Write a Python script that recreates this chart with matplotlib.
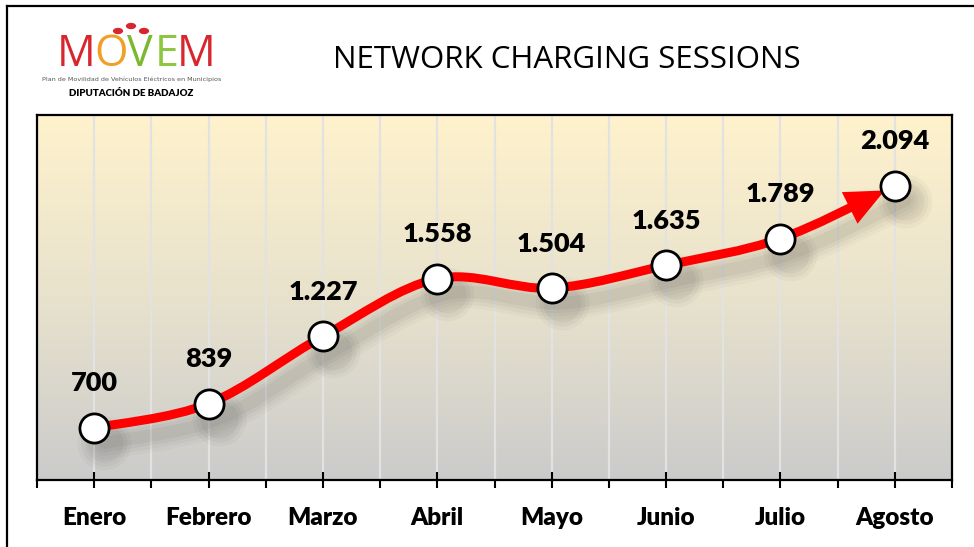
import numpy as np
import matplotlib
matplotlib.use("Agg")
import matplotlib.pyplot as plt
from matplotlib.path import Path
from matplotlib.patches import FancyArrowPatch, PathPatch, ArrowStyle, Circle
from matplotlib.lines import Line2D
from matplotlib import transforms
from matplotlib.colors import LinearSegmentedColormap

# chart data
months = ["Enero", "Febrero", "Marzo", "Abril", "Mayo", "Junio", "Julio", "Agosto"]
sessions = [700, 839, 1227, 1558, 1504, 1635, 1789, 2094]
title = "NETWORK CHARGING SESSIONS"

W, H = 974, 547
fig = plt.figure(figsize=(W / 100, H / 100), dpi=100)
fig.patch.set_facecolor("white")


def fx(px):
    return px / W


def fy(py):
    return 1 - py / H


def smooth_segments(xs, ys):
    # Excel-like smoothed line: Catmull-Rom turned into cubic Bezier pieces
    pts = np.column_stack([xs, ys]).astype(float)
    n = len(pts)
    segs = []
    for i in range(n - 1):
        p0 = pts[max(i - 1, 0)]
        p1, p2 = pts[i], pts[i + 1]
        p3 = pts[min(i + 2, n - 1)]
        segs.append([p1, p1 + (p2 - p0) / 6, p2 - (p3 - p1) / 6, p2])
    return segs


def split_bezier(b, t):
    p0, p1, p2, p3 = [np.asarray(p) for p in b]
    a = p0 + (p1 - p0) * t
    m = p1 + (p2 - p1) * t
    c = p2 + (p3 - p2) * t
    d = a + (m - a) * t
    e = m + (c - m) * t
    f = d + (e - d) * t
    return [p0, a, d, f]


def segs_to_path(segs):
    verts = [segs[0][0]]
    codes = [Path.MOVETO]
    for s in segs:
        verts += [s[1], s[2], s[3]]
        codes += [Path.CURVE4] * 3
    return Path(np.array(verts), codes)


ax = fig.add_axes([fx(37), fy(480), fx(952) - fx(37), fy(115) - fy(480)])
x = np.arange(len(months))
ax.set_xlim(-0.5, len(months) - 0.5)
ax.set_ylim(400, 2500)

# gradient background (light yellow -> gray)
cmap = LinearSegmentedColormap.from_list("bg", ["#cbcbcb", "#e8e2cd", "#fff2cc"])
grad = np.linspace(0, 1, 256).reshape(-1, 1)
ax.imshow(grad, extent=[-0.5, len(months) - 0.5, 400, 2500], origin="lower",
          aspect="auto", cmap=cmap, zorder=0)

# vertical grid at centres and boundaries
for gx in np.arange(-0.5, len(months), 0.5):
    ax.axvline(gx, color="#e2e2e2", lw=1.6, zorder=1)

segs = smooth_segments(x, sessions)
full_path = segs_to_path(segs)

# soft shadow under line and markers
shadow_tr = transforms.offset_copy(ax.transData, fig=fig, x=10, y=-15, units="dots")
for lw, a in [(24, 0.03), (19, 0.04), (14, 0.05), (9, 0.06)]:
    ax.add_patch(PathPatch(full_path, fill=False, lw=lw, ec="#404040", alpha=a,
                           transform=shadow_tr, zorder=2, capstyle="round"))
for s, a in [(1500, 0.04), (1100, 0.05), (750, 0.06)]:
    ax.scatter(x, sessions, s=s, color="#404040", alpha=a, lw=0,
               transform=shadow_tr, zorder=2)

# red line with arrow head at the end
arrow_segs = segs[:-1] + [split_bezier(segs[-1], 0.86)]
arrow_path = segs_to_path(arrow_segs)
arrow = FancyArrowPatch(path=arrow_path, transform=ax.transData,
                        arrowstyle=ArrowStyle("-|>", head_length=1.0, head_width=0.45),
                        mutation_scale=17, lw=6.5, color="#ff0000",
                        joinstyle="miter", capstyle="butt", zorder=3)
ax.add_patch(arrow)

ax.plot(x, sessions, ls="none", marker="o", ms=21, mfc="white", mec="black",
        mew=2, zorder=4)

for xi, v in zip(x, sessions):
    ax.annotate(f"{v:,}".replace(",", "."), (xi, v), xytext=(0, 32),
                textcoords="offset points", ha="center", va="center",
                fontsize=19.5, fontweight="heavy", family="Lato", zorder=5)

ax.set_yticks([])
ax.set_xticks(x)
ax.set_xticklabels(months, fontsize=17.5, fontweight="heavy", family="Lato")
ax.set_xticks(np.arange(-0.5, len(months), 1.0), minor=True)
ax.tick_params(axis="x", which="major", direction="inout", length=11, width=1.5, pad=14)
ax.tick_params(axis="x", which="minor", direction="out", length=6, width=1.5)
for sp in ax.spines.values():
    sp.set_linewidth(1.6)
    sp.set_color("black")
    sp.set_zorder(6)

# title
fig.text(fx(567), fy(60), title, ha="center", va="center", fontsize=22.5,
         family="Open Sans", color="black")

# logo
letters = [("M", 76, "#d8262e"), ("O", 111, "#f0a028"), ("V", 140, "#7cb82f"),
           ("E", 167, "#8dc63f"), ("M", 196, "#d8262e")]
for ch, lx, col in letters:
    fig.text(fx(lx), fy(55), ch, ha="center", va="center", fontsize=31,
             family="Open Sans", color=col)
for dx, dy in [(118, 31), (131, 26), (144, 31)]:
    fig.add_artist(Circle((fx(dx), fy(dy)), 0.0045, transform=fig.transFigure,
                          color="#d8262e"))
fig.text(fx(132), fy(79), "Plan de Movilidad de Vehículos Eléctricos en Municipios",
         ha="center", va="center", fontsize=4.6, color="#555555")
fig.text(fx(131), fy(94), "DIPUTACIÓN DE BADAJOZ", ha="center", va="center",
         fontsize=7, fontweight="heavy", color="black", family="Lato")

# figure border (left and top)
fig.add_artist(Line2D([fx(7), fx(7)], [0, fy(6)], transform=fig.transFigure,
                      color="black", lw=1.6))
fig.add_artist(Line2D([fx(7), 1], [fy(6), fy(6)], transform=fig.transFigure,
                      color="black", lw=1.6))

fig.savefig("out.png", dpi=100)
